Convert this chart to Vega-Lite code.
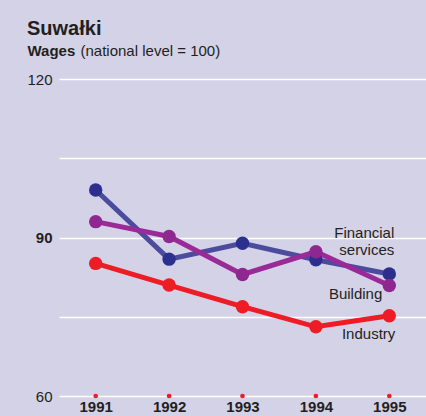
{
  "$schema": "https://vega.github.io/schema/vega-lite/v6.json",
  "autosize": "none",
  "width": 367,
  "height": 317,
  "padding": {"left": 59, "top": 79, "right": 0, "bottom": 20},
  "background": "#d4d2e7",
  "config": {
    "view": {"stroke": null},
    "font": "Liberation Sans"
  },
  "title": {
    "text": "Suwałki",
    "anchor": "start",
    "frame": "group",
    "dx": -32,
    "dy": -4,
    "fontSize": 20,
    "fontWeight": "bold",
    "font": "Liberation Sans",
    "color": "#231f20",
    "offset": 0
  },
  "data": {
    "values": [
      {"series": "Financial services", "year": "1991", "value": 99.0},
      {"series": "Financial services", "year": "1992", "value": 85.9},
      {"series": "Financial services", "year": "1993", "value": 88.9},
      {"series": "Financial services", "year": "1994", "value": 85.8},
      {"series": "Financial services", "year": "1995", "value": 83.1},
      {"series": "Building", "year": "1991", "value": 93.0},
      {"series": "Building", "year": "1992", "value": 90.2},
      {"series": "Building", "year": "1993", "value": 83.0},
      {"series": "Building", "year": "1994", "value": 87.3},
      {"series": "Building", "year": "1995", "value": 80.9},
      {"series": "Industry", "year": "1991", "value": 85.1},
      {"series": "Industry", "year": "1992", "value": 81.0},
      {"series": "Industry", "year": "1993", "value": 76.9},
      {"series": "Industry", "year": "1994", "value": 73.1},
      {"series": "Industry", "year": "1995", "value": 75.2}
    ]
  },
  "encoding": {
    "x": {
      "field": "year",
      "type": "ordinal",
      "scale": {"type": "point", "padding": 0.5},
      "axis": {
        "labelAngle": 0,
        "domain": false,
        "ticks": false,
        "grid": false,
        "labelPadding": 3,
        "labelFontSize": 15,
        "labelFontWeight": "bold",
        "labelColor": "#231f20",
        "title": "(national level = 100)",
        "titleX": 21,
        "titleY": -341,
        "titleAlign": "left",
        "titleBaseline": "alphabetic",
        "titleFontSize": 15,
        "titleFontWeight": "normal",
        "titleColor": "#231f20"
      }
    },
    "y": {
      "field": "value",
      "type": "quantitative",
      "scale": {"domain": [60, 120], "nice": false, "zero": false},
      "axis": {
        "values": [60, 75, 90, 105, 120],
        "labelExpr": "datum.value % 30 === 0 ? datum.label : ''",
        "domain": false,
        "ticks": false,
        "grid": true,
        "gridColor": "#ffffff",
        "gridWidth": 1.5,
        "gridOpacity": 1,
        "labelPadding": 7,
        "labelFontSize": 15,
        "labelColor": "#231f20",
        "labelFontWeight": {"expr": "datum.value === 90 ? 'bold' : 'normal'"},
        "title": "Wages",
        "titleAngle": 0,
        "titleAlign": "left",
        "titleBaseline": "alphabetic",
        "titleX": -32,
        "titleY": -24,
        "titleFontSize": 15,
        "titleFontWeight": "bold",
        "titleColor": "#231f20"
      }
    }
  },
  "layer": [
    {
      "transform": [{"filter": "datum.series === 'Industry'"}],
      "mark": {"type": "point", "filled": true, "opacity": 1, "size": 22, "color": "#ee1c25"},
      "encoding": {"y": {"datum": 60}}
    },
    {
      "mark": {"type": "line", "strokeWidth": 5},
      "encoding": {
        "color": {
          "field": "series",
          "type": "nominal",
          "scale": {"domain": ["Financial services", "Building", "Industry"], "range": ["#4c4c9f", "#9a2a98", "#ee1c25"]},
          "legend": null
        }
      }
    },
    {
      "mark": {"type": "point", "filled": true, "opacity": 1, "size": 180},
      "encoding": {
        "color": {
          "field": "series",
          "type": "nominal",
          "scale": {"domain": ["Financial services", "Building", "Industry"], "range": ["#2d2f8e", "#8f2790", "#ee1c25"]},
          "legend": null
        }
      }
    },
    {
      "transform": [{"filter": "datum.series === 'Financial services' && datum.year === '1995'"}],
      "mark": {"type": "text", "align": "right", "baseline": "alphabetic", "dx": 5, "dy": -36, "fontSize": 15, "lineHeight": 17, "lineBreak": " ", "color": "#231f20"},
      "encoding": {"text": {"field": "series"}}
    },
    {
      "transform": [{"filter": "datum.series === 'Building' && datum.year === '1995'"}],
      "mark": {"type": "text", "align": "right", "baseline": "alphabetic", "dx": -7, "dy": 13, "fontSize": 15, "color": "#231f20"},
      "encoding": {"text": {"field": "series"}}
    },
    {
      "transform": [{"filter": "datum.series === 'Industry' && datum.year === '1995'"}],
      "mark": {"type": "text", "align": "right", "baseline": "alphabetic", "dx": 6, "dy": 23, "fontSize": 15, "color": "#231f20"},
      "encoding": {"text": {"field": "series"}}
    }
  ],
  "resolve": {"scale": {"color": "independent"}}
}
